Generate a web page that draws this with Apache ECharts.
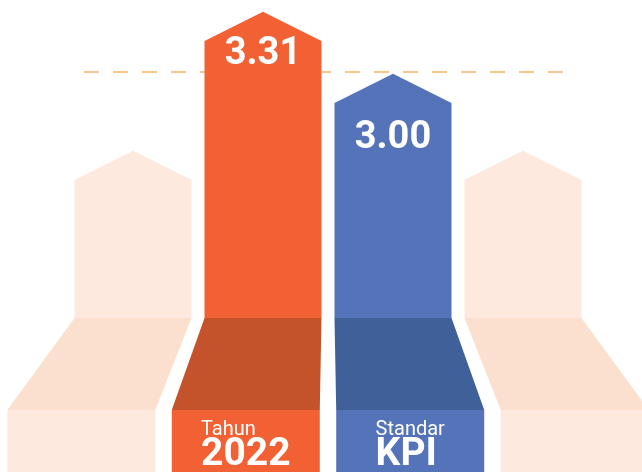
<!DOCTYPE html>
<html>
<head>
<meta charset="utf-8">
<script src="https://cdn.jsdelivr.net/npm/echarts@6/dist/echarts.min.js"></script>
<style>
  html, body { margin: 0; padding: 0; background: #fff; }
  #chart { width: 642px; height: 472px; }
</style>
</head>
<body>
<div id="chart"></div>
<script>
// chart values
var categories = ['a', 'b', 'c', 'd']
var values = [2.615, 3.31, 3.00, 2.615]
var valueLabels = ['', '3.31', '3.00', '']
var labelTop = ['', 'Tahun', 'Standar', '']
var labelMain = ['', '2022', 'KPI', '']
var refValue = 3.155
var yMin = 1.925
var yMax = 3.515

// colours: [body, floor slope, floor front]
var palette = [
  ['#FDE9DD', '#FBE0D0', '#FDE9DD'],
  ['#F26134', '#C4522A', '#F26134'],
  ['#5473B8', '#40609A', '#5473B8'],
  ['#FDE9DD', '#FBE0D0', '#FDE9DD']
]
var labelDy = [0, 13, 35, 0]
var mainFont = 'bold 39px Roboto'
var topFont = '20px Roboto'

var measureCtx = document.createElement('canvas').getContext('2d')
function textWidth(t, font) {
  measureCtx.font = font
  return measureCtx.measureText(t).width
}

var chart = echarts.init(document.getElementById('chart'))

function renderBar(params, api) {
  var idx = api.value(0)
  var v = api.value(1)
  var top = api.coord([idx, v])
  var base = api.coord([idx, yMin])
  var w = api.size([1, 0])[0] * 0.9
  var x0 = top[0] - w / 2
  var x1 = top[0] + w / 2
  var shoulder = top[1]
  var peak = shoulder - w * 0.25
  var cs = params.coordSys
  var cx = cs.x + cs.width / 2
  var k = 0.265
  var bx0 = x0 + (x0 - cx) * k
  var bx1 = x1 + (x1 - cx) * k
  var floorTop = base[1]
  var floorMid = floorTop + 92
  var col = palette[idx]
  var children = [
    {
      type: 'polygon',
      shape: { points: [[x0, floorTop], [x0, shoulder], [top[0], peak], [x1, shoulder], [x1, floorTop]] },
      style: { fill: col[0] }
    },
    {
      type: 'polygon',
      shape: { points: [[x0, floorTop], [x1, floorTop], [bx1, floorMid], [bx0, floorMid]] },
      style: { fill: col[1] }
    },
    {
      type: 'rect',
      shape: { x: bx0, y: floorMid, width: bx1 - bx0, height: 120 },
      style: { fill: col[2] }
    }
  ]
  if (valueLabels[idx]) {
    children.push({
      type: 'text',
      style: {
        x: top[0], y: shoulder + labelDy[idx],
        text: valueLabels[idx],
        align: 'center', verticalAlign: 'middle',
        fill: '#fff', font: 'bold 38px Roboto'
      }
    })
  }
  if (labelMain[idx]) {
    var mid = (bx0 + bx1) / 2
    var left = mid - Math.max(textWidth(labelMain[idx], mainFont), textWidth(labelTop[idx], topFont)) / 2
    children.push({
      type: 'text',
      style: {
        x: left, y: floorMid + 20,
        text: labelTop[idx],
        align: 'left', verticalAlign: 'middle',
        fill: '#fff', font: topFont
      }
    })
    children.push({
      type: 'text',
      style: {
        x: left, y: floorMid + 45,
        text: labelMain[idx],
        align: 'left', verticalAlign: 'middle',
        fill: '#fff', font: mainFont
      }
    })
  }
  return { type: 'group', children: children }
}

function renderRef(params, api) {
  var p = api.coord([0, api.value(0)])
  var cs = params.coordSys
  return {
    type: 'line',
    shape: { x1: cs.x + 16, y1: p[1], x2: cs.x + cs.width - 25, y2: p[1] },
    style: { stroke: '#F8B56A', lineWidth: 1.5, lineDash: [15, 14] }
  }
}

chart.setOption({
  animation: false,
  grid: { left: 68, right: 54, top: 0, bottom: 154 },
  xAxis: { type: 'category', data: categories, show: false },
  yAxis: { type: 'value', min: yMin, max: yMax, show: false },
  series: [
    {
      type: 'custom',
      renderItem: renderRef,
      data: [[refValue]],
      encode: { y: 0 },
      clip: false,
      z: 1
    },
    {
      type: 'custom',
      renderItem: renderBar,
      data: values.map(function (v, i) { return [i, v] }),
      encode: { x: 0, y: 1 },
      clip: false,
      z: 2
    }
  ]
})
</script>
</body>
</html>
